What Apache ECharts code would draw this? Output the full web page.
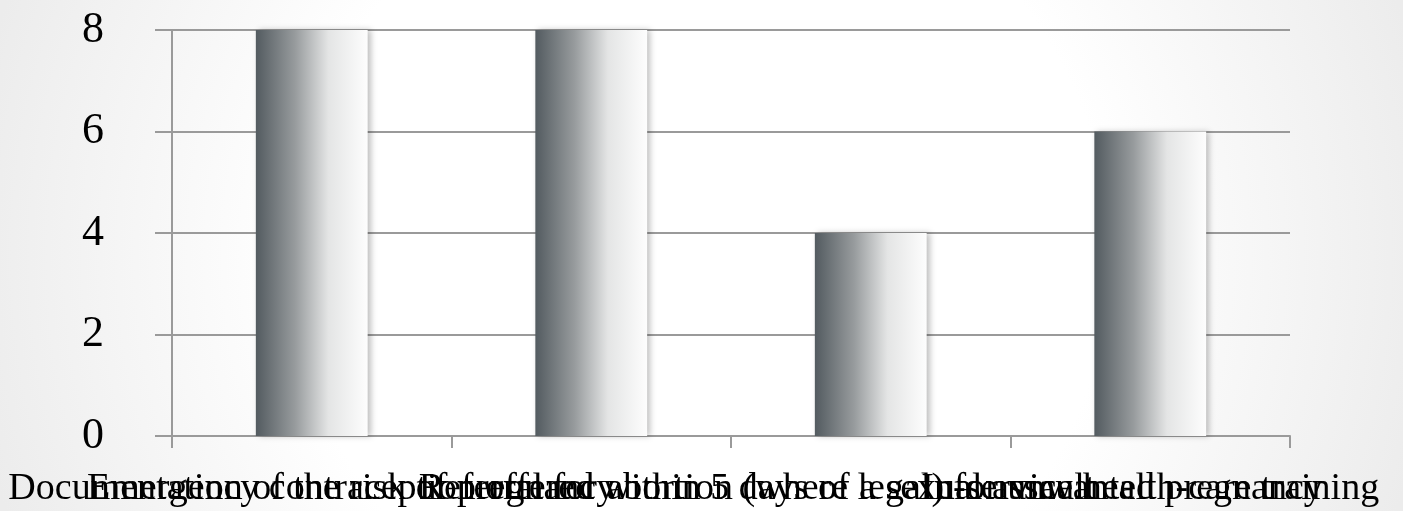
<!DOCTYPE html>
<html>
<head>
<meta charset="utf-8">
<script src="https://cdn.jsdelivr.net/npm/echarts@6/dist/echarts.min.js"></script>
<style>
  html, body { margin: 0; padding: 0; }
  #chart { width: 1403px; height: 511px; }
</style>
</head>
<body>
<div id="chart"></div>
<script>
// categories (long labels overlap on one line, as in the original)
const categories = [
  "Documentation of the risk of pregnancy",
  "Emergency contraception offered within 5 days of a sexual assault",
  "Referral for abortion (where legal) for unwanted pregnancy",
  "In-service health-care training"
];
const counts = [8, 8, 4, 6];
const yTicks = { min: 0, max: 8, step: 2 };

const chart = echarts.init(document.getElementById("chart"));

const option = {
  backgroundColor: {
    type: "radial", x: 0.5, y: 0.5, r: 1.45,
    colorStops: [
      { offset: 0, color: "#ffffff" },
      { offset: 0.55, color: "#ffffff" },
      { offset: 1, color: "#ececec" }
    ]
  },
  animation: false,
  grid: { left: 172, right: 113, top: 30, bottom: 75, outerBoundsMode: "none" },
  xAxis: {
    type: "category",
    data: categories,
    axisLine: { lineStyle: { color: "#9a9a9a", width: 2 } },
    axisTick: { show: true, length: 12, lineStyle: { color: "#9a9a9a", width: 2 } },
    axisLabel: {
      interval: 0,
      margin: 34,
      color: "#000",
      fontFamily: "Liberation Serif",
      fontSize: 38
    }
  },
  yAxis: {
    type: "value",
    min: yTicks.min,
    max: yTicks.max,
    interval: yTicks.step,
    axisLine: { show: true, lineStyle: { color: "#9a9a9a", width: 2 } },
    axisTick: { show: true, length: 17, lineStyle: { color: "#9a9a9a", width: 2 } },
    splitLine: { lineStyle: { color: "#9a9a9a", width: 2 } },
    axisLabel: {
      margin: 68,
      color: "#000",
      fontFamily: "Liberation Serif",
      fontSize: 44
    }
  },
  series: [
    {
      type: "bar",
      data: counts,
      barWidth: "40%",
      itemStyle: {
        color: {
          type: "linear", x: 0, y: 0, x2: 1, y2: 0,
          colorStops: [
            { offset: 0, color: "#535b60" },
            { offset: 0.35, color: "#979b9d" },
            { offset: 0.65, color: "#e4e5e5" },
            { offset: 1, color: "#fdfdfd" }
          ]
        },
        shadowColor: "rgba(0,0,0,0.25)",
        shadowBlur: 6,
        shadowOffsetX: 3
      }
    }
  ]
};

chart.setOption(option);
</script>
</body>
</html>
